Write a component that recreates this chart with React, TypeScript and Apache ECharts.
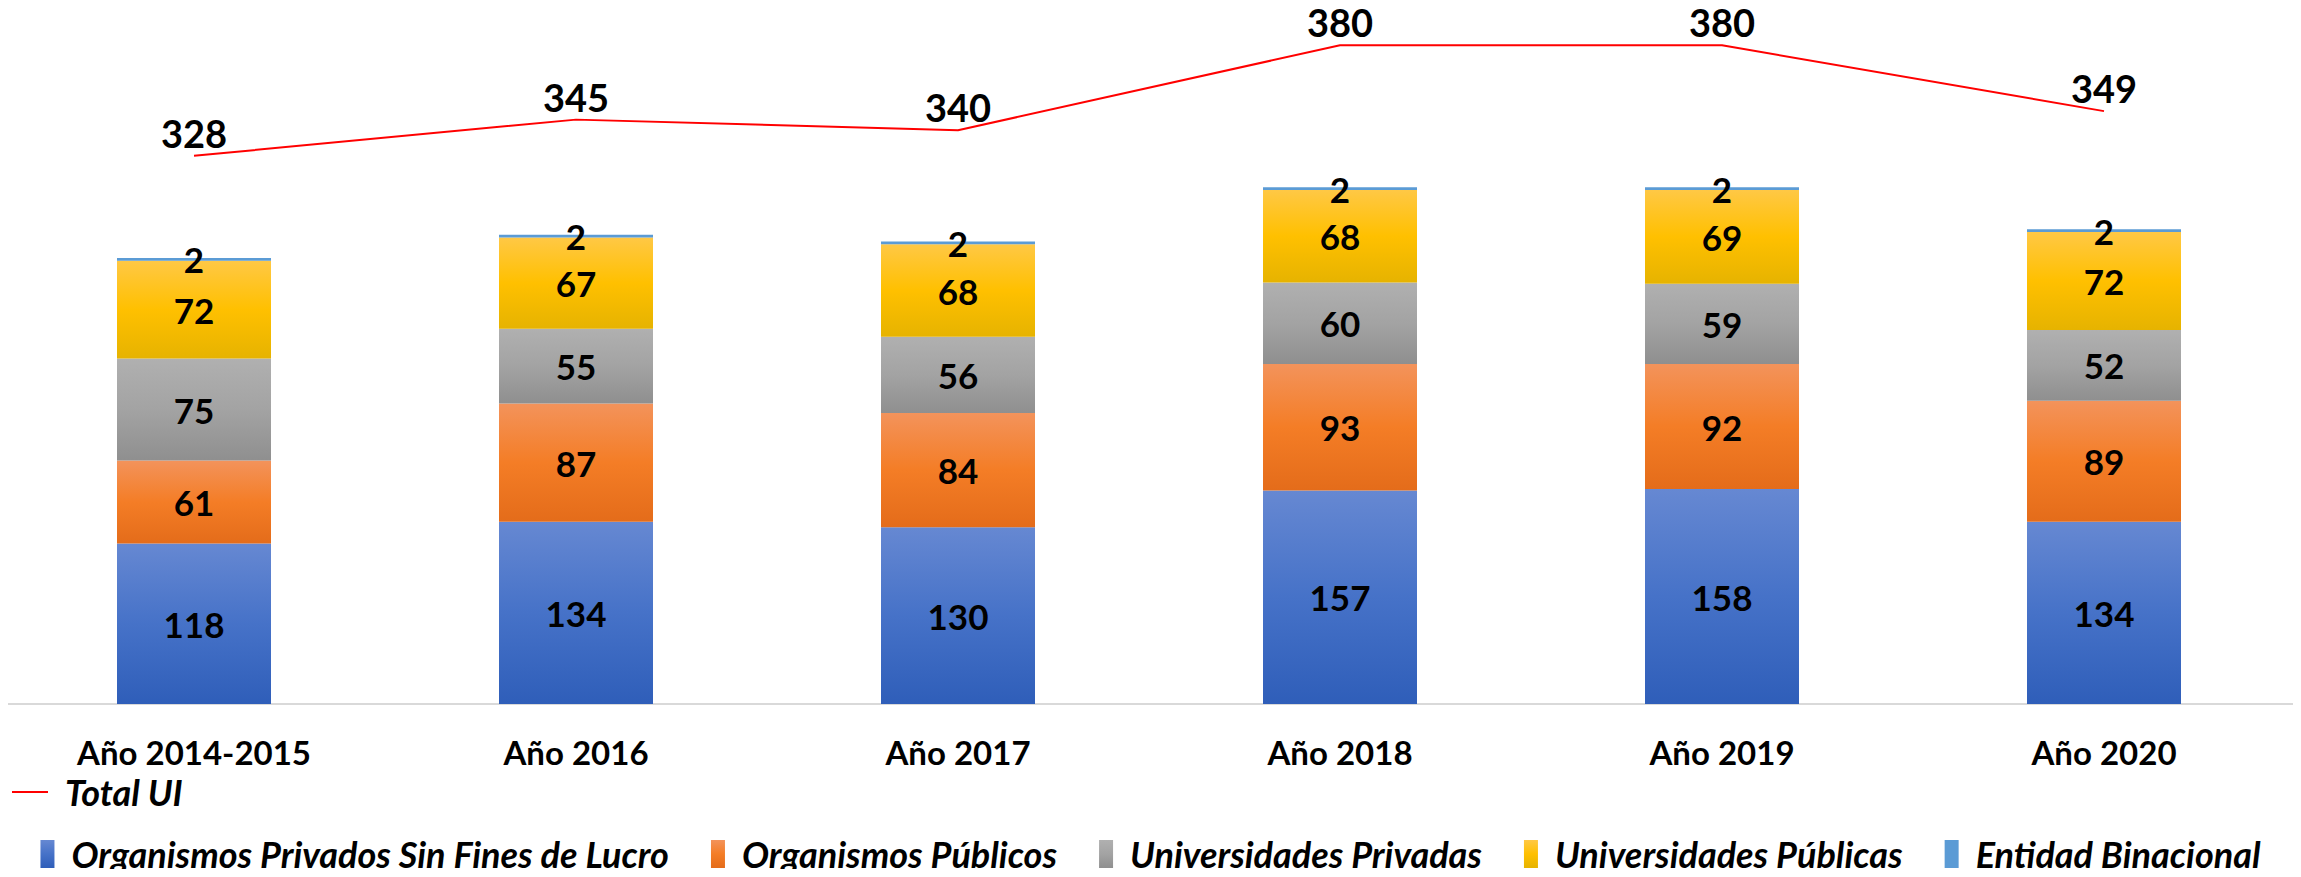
import React, { useEffect, useRef } from "react";
import * as echarts from "echarts";

const categories = ["Año 2014-2015", "Año 2016", "Año 2017", "Año 2018", "Año 2019", "Año 2020"];
const privadosSinFines = [118, 134, 130, 157, 158, 134];
const organismosPublicos = [61, 87, 84, 93, 92, 89];
const universidadesPrivadas = [75, 55, 56, 60, 59, 52];
const universidadesPublicas = [72, 67, 68, 68, 69, 72];
const entidadBinacional = [2, 2, 2, 2, 2, 2];
const totalUI = [328, 345, 340, 380, 380, 349];

const FONT = "Lato, 'Open Sans', sans-serif";

const grad = (top: string, mid: string, bottom: string) => ({
  type: "linear",
  x: 0,
  y: 0,
  x2: 0,
  y2: 1,
  colorStops: [
    { offset: 0, color: top },
    { offset: 0.5, color: mid },
    { offset: 1, color: bottom },
  ],
});

export default function App() {
  const ref = useRef<HTMLDivElement>(null);
  useEffect(() => {
    if (!ref.current) return;
    const chart = echarts.init(ref.current, undefined, { renderer: "svg" });
    const barLabel = {
      show: true,
      position: "inside",
      color: "#000",
      fontFamily: FONT,
      fontWeight: "bold",
      fontSize: 35,
    };
    const mkBar = (name: string, data: number[], color: any, extraLabel: any = {}) => ({
      name,
      type: "bar",
      stack: "total",
      data,
      barWidth: 154,
      itemStyle: { color },
      label: { ...barLabel, ...extraLabel },
      labelLayout: { hideOverlap: false },
      emphasis: { disabled: true },
    });
    const legendText = {
      color: "#000",
      fontFamily: FONT,
      fontWeight: "bold",
      fontStyle: "italic",
      fontSize: 36,
      lineHeight: 40,
      padding: [0, 0, 0, 12],
    };
    chart.setOption({
      animation: false,
      backgroundColor: "#fff",
      grid: { left: 3, right: 6, top: 24, bottom: 173, containLabel: false },
      xAxis: {
        type: "category",
        data: categories,
        axisLine: { show: true, lineStyle: { color: "#D9D9D9", width: 2 } },
        axisTick: { show: false },
        axisLabel: {
          color: "#000",
          fontFamily: FONT,
          fontWeight: "bold",
          fontSize: 33,
          lineHeight: 34,
          margin: 31,
        },
      },
      yAxis: [
        { type: "value", min: 0, max: 500, show: false, splitLine: { show: false } },
        { type: "value", min: 70, max: 390, show: false, splitLine: { show: false } },
      ],
      legend: [
        {
          data: ["Total UI"],
          left: 12,
          top: 774,
          padding: 0,
          itemWidth: 36,
          itemHeight: 2,
          icon: "rect",
          textStyle: { ...legendText, lineHeight: 32 },
        },
        {
          data: [
            "Organismos Privados Sin Fines de Lucro",
            "Organismos Públicos",
            "Universidades Privadas",
            "Universidades Públicas",
            "Entidad Binacional",
          ],
          left: "center",
          top: 834,
          padding: 0,
          itemWidth: 14,
          itemHeight: 28,
          itemGap: 42,
          icon: "rect",
          textStyle: legendText,
        },
      ],
      series: [
        mkBar("Organismos Privados Sin Fines de Lucro", privadosSinFines, grad("#6688D2", "#4672C8", "#2F5EB9")),
        mkBar("Organismos Públicos", organismosPublicos, grad("#F3935B", "#F47D26", "#E46C1A")),
        mkBar("Universidades Privadas", universidadesPrivadas, grad("#B0B0B0", "#A3A3A3", "#8F8F8F")),
        mkBar("Universidades Públicas", universidadesPublicas, grad("#FFC845", "#FFC000", "#E6B300")),
        mkBar("Entidad Binacional", entidadBinacional, "#5B9BD5", { offset: [0, 8] }),
        {
          name: "Total UI",
          type: "line",
          yAxisIndex: 1,
          data: totalUI,
          symbol: "circle",
          symbolSize: 0,
          showSymbol: true,
          z: 5,
          lineStyle: { color: "#FF0000", width: 2 },
          itemStyle: { color: "#FF0000" },
          label: {
            show: true,
            position: "top",
            distance: 4,
            color: "#000",
            fontFamily: FONT,
            fontWeight: "bold",
            fontSize: 38,
          },
          emphasis: { disabled: true },
        },
      ],
    });
    return () => chart.dispose();
  }, []);
  return <div ref={ref} style={{ width: 2301, height: 877, margin: -8 }} />;
}
